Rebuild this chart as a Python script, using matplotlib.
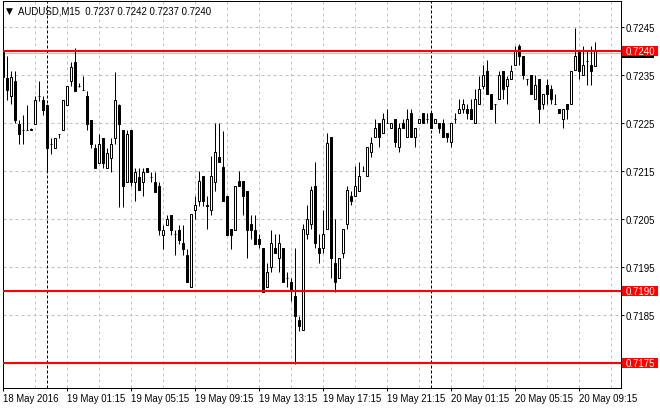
import matplotlib
matplotlib.use('Agg')
import matplotlib.pyplot as plt
import matplotlib.transforms as mtransforms
from matplotlib.patches import Rectangle

# ---------------- data (AUDUSD M15 candles) ----------------
opens = [0.72398, 0.72345, 0.72308, 0.72339, 0.72249, 0.72237, 0.72237, 0.72237, 0.72248, 0.72308,
         0.72298, 0.72288, 0.72208, 0.72198, 0.72229, 0.72237, 0.72288, 0.72339, 0.72379, 0.72329,
         0.72319, 0.72308, 0.72258, 0.72198, 0.72168, 0.72219, 0.72158, 0.72179, 0.72219, 0.72288,
         0.72237, 0.72128, 0.72237, 0.72128, 0.72138, 0.72128, 0.72158, 0.72138, 0.72128, 0.72119,
         0.72017, 0.72038, 0.72060, 0.72019, 0.72029, 0.72000, 0.71977, 0.71910, 0.72070, 0.72089,
         0.72140, 0.72080, 0.72070, 0.72128, 0.72181, 0.72160, 0.72099, 0.72030, 0.72028, 0.72130,
         0.72130, 0.72110, 0.72040, 0.72028, 0.72009, 0.71990, 0.71910, 0.71950, 0.71990, 0.71969,
         0.71990, 0.71929, 0.71919, 0.71891, 0.71841, 0.71820, 0.72019, 0.72040, 0.72120, 0.71990,
         0.71990, 0.72030, 0.72221, 0.71960, 0.71929, 0.71980, 0.72040, 0.72099, 0.72099, 0.72110,
         0.72150, 0.72140, 0.72190, 0.72221, 0.72250, 0.72231, 0.72250, 0.72240, 0.72260, 0.72200,
         0.72250, 0.72221, 0.72271, 0.72221, 0.72250, 0.72271, 0.72260, 0.72271, 0.72250, 0.72250,
         0.72250, 0.72231, 0.72211, 0.72260, 0.72271, 0.72281, 0.72281, 0.72281, 0.72250, 0.72290,
         0.72329, 0.72360, 0.72311, 0.72290, 0.72300, 0.72360, 0.72329, 0.72342, 0.72371, 0.72411,
         0.72391, 0.72342, 0.72350, 0.72300, 0.72342, 0.72290, 0.72331, 0.72321, 0.72291, 0.72281,
         0.72260, 0.72290, 0.72290, 0.72362, 0.72402, 0.72350, 0.72381, 0.72371, 0.72370]
highs = [0.72400, 0.72390, 0.72360, 0.72360, 0.72258, 0.72267, 0.72288, 0.72240, 0.72308, 0.72339,
         0.72308, 0.72290, 0.72219, 0.72219, 0.72229, 0.72298, 0.72329, 0.72379, 0.72408, 0.72335,
         0.72348, 0.72317, 0.72258, 0.72208, 0.72229, 0.72219, 0.72198, 0.72219, 0.72358, 0.72290,
         0.72237, 0.72237, 0.72237, 0.72158, 0.72158, 0.72158, 0.72158, 0.72148, 0.72148, 0.72128,
         0.72038, 0.72060, 0.72060, 0.72029, 0.72038, 0.72038, 0.71988, 0.72061, 0.72099, 0.72151,
         0.72140, 0.72099, 0.72183, 0.72250, 0.72250, 0.72235, 0.72099, 0.72030, 0.72120, 0.72150,
         0.72130, 0.72110, 0.72059, 0.72059, 0.72019, 0.71990, 0.71960, 0.72028, 0.72019, 0.72019,
         0.71990, 0.71940, 0.71929, 0.71990, 0.71849, 0.72040, 0.72080, 0.72120, 0.72170, 0.72019,
         0.72070, 0.72231, 0.72221, 0.72051, 0.71969, 0.72030, 0.72120, 0.72110, 0.72162, 0.72170,
         0.72162, 0.72200, 0.72221, 0.72260, 0.72250, 0.72272, 0.72280, 0.72250, 0.72260, 0.72250,
         0.72260, 0.72281, 0.72281, 0.72240, 0.72260, 0.72271, 0.72271, 0.72271, 0.72260, 0.72250,
         0.72259, 0.72231, 0.72250, 0.72271, 0.72300, 0.72300, 0.72290, 0.72300, 0.72321, 0.72349,
         0.72371, 0.72383, 0.72311, 0.72291, 0.72360, 0.72360, 0.72349, 0.72371, 0.72412, 0.72415,
         0.72391, 0.72342, 0.72350, 0.72350, 0.72342, 0.72311, 0.72342, 0.72331, 0.72311, 0.72281,
         0.72281, 0.72290, 0.72360, 0.72448, 0.72402, 0.72412, 0.72402, 0.72412, 0.72420]
lows = [0.72330, 0.72298, 0.72290, 0.72250, 0.72208, 0.72208, 0.72236, 0.72236, 0.72248, 0.72297,
        0.72267, 0.72148, 0.72186, 0.72198, 0.72219, 0.72237, 0.72288, 0.72329, 0.72317, 0.72325,
        0.72319, 0.72237, 0.72198, 0.72158, 0.72168, 0.72158, 0.72158, 0.72148, 0.72208, 0.72077,
        0.72077, 0.72128, 0.72119, 0.72088, 0.72112, 0.72098, 0.72148, 0.72128, 0.72108, 0.72017,
        0.71988, 0.72038, 0.72017, 0.71977, 0.71998, 0.71977, 0.71919, 0.71910, 0.72051, 0.72078,
        0.72078, 0.72030, 0.72059, 0.72110, 0.72170, 0.72089, 0.72018, 0.71988, 0.72028, 0.72120,
        0.72059, 0.71969, 0.72009, 0.71999, 0.71990, 0.71899, 0.71910, 0.71940, 0.71980, 0.71940,
        0.71920, 0.71910, 0.71881, 0.71749, 0.71818, 0.71820, 0.72009, 0.72030, 0.71990, 0.71960,
        0.71980, 0.72030, 0.71929, 0.71899, 0.71929, 0.71969, 0.72030, 0.72080, 0.72099, 0.72110,
        0.72150, 0.72140, 0.72181, 0.72221, 0.72200, 0.72231, 0.72250, 0.72240, 0.72200, 0.72190,
        0.72240, 0.72221, 0.72221, 0.72200, 0.72250, 0.72250, 0.72250, 0.72240, 0.72250, 0.72231,
        0.72221, 0.72211, 0.72200, 0.72250, 0.72271, 0.72271, 0.72260, 0.72260, 0.72250, 0.72290,
        0.72321, 0.72311, 0.72281, 0.72250, 0.72300, 0.72300, 0.72290, 0.72342, 0.72371, 0.72371,
        0.72342, 0.72331, 0.72311, 0.72300, 0.72250, 0.72281, 0.72290, 0.72290, 0.72290, 0.72271,
        0.72240, 0.72260, 0.72290, 0.72362, 0.72342, 0.72350, 0.72331, 0.72331, 0.72370]
closes = [0.72346, 0.72319, 0.72346, 0.72257, 0.72229, 0.72236, 0.72237, 0.72238, 0.72298, 0.72307,
          0.72279, 0.72198, 0.72208, 0.72219, 0.72229, 0.72298, 0.72329, 0.72368, 0.72317, 0.72329,
          0.72320, 0.72248, 0.72208, 0.72158, 0.72208, 0.72168, 0.72188, 0.72208, 0.72298, 0.72248,
          0.72119, 0.72229, 0.72128, 0.72148, 0.72112, 0.72148, 0.72148, 0.72138, 0.72108, 0.72028,
          0.72028, 0.72050, 0.72028, 0.72019, 0.72008, 0.71988, 0.71919, 0.72061, 0.72080, 0.72131,
          0.72089, 0.72078, 0.72140, 0.72190, 0.72170, 0.72089, 0.72018, 0.72018, 0.72120, 0.72120,
          0.72099, 0.72028, 0.72028, 0.71999, 0.71999, 0.71899, 0.71940, 0.72000, 0.71980, 0.72000,
          0.71920, 0.71929, 0.71901, 0.71849, 0.71828, 0.72030, 0.72051, 0.72111, 0.72000, 0.71980,
          0.72019, 0.72210, 0.71969, 0.71919, 0.71969, 0.72030, 0.72111, 0.72089, 0.72120, 0.72140,
          0.72150, 0.72200, 0.72210, 0.72240, 0.72221, 0.72260, 0.72250, 0.72250, 0.72211, 0.72240,
          0.72240, 0.72260, 0.72221, 0.72240, 0.72260, 0.72250, 0.72260, 0.72240, 0.72260, 0.72240,
          0.72221, 0.72221, 0.72250, 0.72260, 0.72281, 0.72291, 0.72271, 0.72260, 0.72300, 0.72321,
          0.72350, 0.72311, 0.72281, 0.72290, 0.72350, 0.72321, 0.72342, 0.72360, 0.72402, 0.72391,
          0.72350, 0.72342, 0.72311, 0.72331, 0.72281, 0.72311, 0.72311, 0.72300, 0.72290, 0.72271,
          0.72281, 0.72281, 0.72360, 0.72391, 0.72360, 0.72371, 0.72381, 0.72360, 0.72400]

x_label_pos = [0, 16, 32, 48, 64, 80, 96, 112, 128, 144]
x_labels = ['18 May 2016', '19 May 01:15', '19 May 05:15', '19 May 09:15', '19 May 13:15',
            '19 May 17:15', '19 May 21:15', '20 May 01:15', '20 May 05:15', '20 May 09:15']
y_ticks = [0.7185, 0.7195, 0.7205, 0.7215, 0.7225, 0.7235, 0.7245]
grid_prices = [0.7175, 0.7185, 0.7195, 0.7205, 0.7215, 0.7225, 0.7235, 0.7245]
levels = [0.7240, 0.7190, 0.7175]
level_labels = ['0.7240', '0.7190', '0.7175']
bid = 0.7240
day_separators = [11, 107]
title = 'AUDUSD,M15  0.7237 0.7242 0.7237 0.7240'

# ---------------- layout ----------------
W, H = 660, 410
FONT = ['Liberation Sans', 'DejaVu Sans']
FS = 6.9
plt.rcParams['font.family'] = FONT
fig = plt.figure(figsize=(W / 100, H / 100), dpi=100)
fig.patch.set_facecolor('white')
ax_l, ax_r, ax_t, ax_b = 3, 621, 2, 388.5
ax = fig.add_axes([ax_l / W, 1 - ax_b / H, (ax_r - ax_l) / W, (ax_b - ax_t) / H])
ax.set_facecolor('white')

px = 0.72  # one pixel in points
xmin = -0.075
ax.set_xlim(xmin, xmin + (ax_r - ax_l) / 4.0)
ymin, ymax = 0.71700, 0.725052
ax.set_ylim(ymin, ymax)
ppu = (ax_b - ax_t) / (ymax - ymin)  # pixels per price unit

# grid
for g in grid_prices:
    ax.axhline(g, color='#c0c0c0', lw=px, ls=(0, (3, 3)), zorder=1)
for k in range(8, 160, 8):
    ax.axvline(k, color='#c0c0c0', lw=px, ls=(0, (3, 3)), zorder=1)
for k in day_separators:
    ax.axvline(k, color='black', lw=px, ls=(0, (3, 2)), zorder=2)

# bid line (grey) slightly below the red level line
off = mtransforms.offset_copy(ax.transData, fig=fig, x=0, y=-1.5, units='dots')
ax.plot([xmin, 200], [bid, bid], color='#c0c0c0', lw=px, transform=off, zorder=2)

# candles
ks = list(range(len(opens)))
ax.vlines(ks, lows, highs, color='black', lw=px, zorder=3)
bottoms = [min(o, c) for o, c in zip(opens, closes)]
heights = [abs(c - o) for o, c in zip(opens, closes)]
colors = ['white' if c >= o else 'black' for o, c in zip(opens, closes)]
ax.bar(ks, heights, bottom=bottoms, width=0.5, color=colors, edgecolor='black',
       linewidth=px, zorder=4)

# red horizontal levels
for lv in levels:
    ax.axhline(lv, color='#ff0000', lw=1.5, zorder=5)

# axes styling
for s in ax.spines.values():
    s.set_color('black')
    s.set_linewidth(px)
ax.yaxis.tick_right()
ax.set_yticks(y_ticks)
ax.set_yticklabels(['%.4f' % v for v in y_ticks])
ax.set_xticks(x_label_pos)
ax.set_xticklabels(x_labels)
ax.tick_params(axis='y', direction='out', length=3 * px, width=px, pad=2 * px,
               labelsize=FS, colors='black')
ax.tick_params(axis='x', direction='out', length=3 * px, width=px, pad=2.5 * px,
               labelsize=FS, colors='black')
for t in ax.get_xticklabels():
    t.set_ha('left')

# right-axis price labels
bt = mtransforms.blended_transform_factory(fig.transFigure, ax.transData)
hbox = 10 / ppu
# bid label (black) mostly hidden behind the red one
ax.add_patch(Rectangle((621.5 / W, bid - 1.5 / ppu - hbox / 2), 32 / W, hbox,
                       transform=bt, facecolor='black', edgecolor='none',
                       clip_on=False, zorder=6))
for lv, lab in zip(levels, level_labels):
    ax.add_patch(Rectangle((621.5 / W, lv - hbox / 2), 36 / W, hbox, transform=bt,
                           facecolor='#ff0000', edgecolor='none', clip_on=False, zorder=7))
    ax.text(626 / W, lv, lab, transform=bt, color='white', fontsize=FS,
            va='center', ha='left', clip_on=False, zorder=8)

# title
fig.text(5.5 / W, 1 - 11 / H, '\u25bc', fontsize=6.5, family=['DejaVu Sans'],
         va='center', ha='left', color='black')
fig.text(18 / W, 1 - 11 / H, title, fontsize=FS, va='center', ha='left', color='black')

fig.savefig('out.png', dpi=100, facecolor='white')
